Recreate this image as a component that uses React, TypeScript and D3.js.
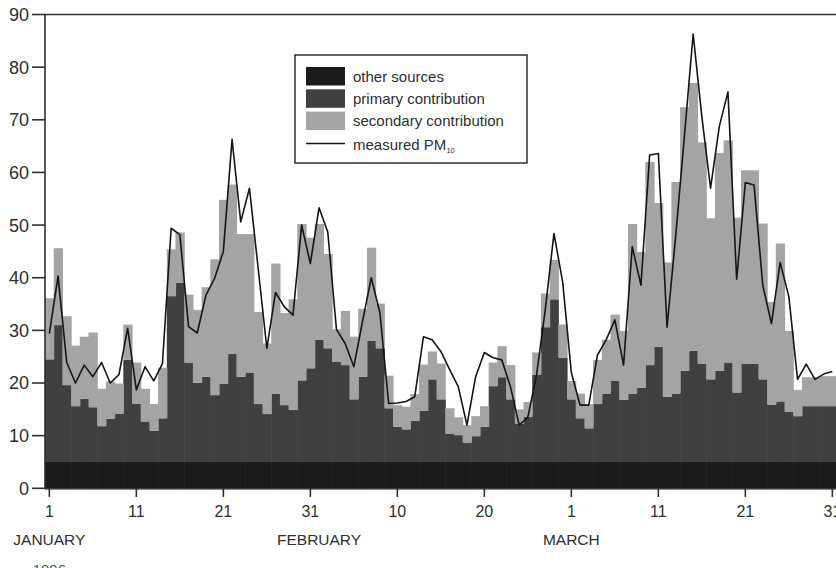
import React from 'react'
import * as d3 from 'd3'

// daily values, 1 Jan – 31 Mar 1996 (µg/m3)
const otherSources = [
  5, 5, 5, 5, 5, 5, 5, 5, 5, 5, 5, 5, 5, 5, 5, 5, 5, 5, 5, 5,
  5, 5, 5, 5, 5, 5, 5, 5, 5, 5, 5, 5, 5, 5, 5, 5, 5, 5, 5, 5,
  5, 5, 5, 5, 5, 5, 5, 5, 5, 5, 5, 5, 5, 5, 5, 5, 5, 5, 5, 5,
  5, 5, 5, 5, 5, 5, 5, 5, 5, 5, 5, 5, 5, 5, 5, 5, 5, 5, 5, 5,
  5, 5, 5, 5, 5, 5, 5, 5, 5, 5, 5,
]
const primary = [
  19.5, 26, 14.6, 10.6, 12, 10.4, 6.8, 8.2, 9.2, 19.4,
  11.1, 7.7, 5.9, 8.3, 31.5, 34, 18.9, 15, 16.2, 12.7,
  14.9, 20.5, 16.2, 17, 11, 9.1, 13, 10.8, 9.9, 15.5,
  17.8, 23.2, 21.6, 19, 18.4, 11.9, 16.2, 23, 21.6, 10.2,
  6.7, 6.2, 7.8, 9.7, 15.7, 11.9, 5.4, 5.1, 3.7, 4.9,
  6.7, 14.4, 16.1, 11.9, 7.3, 8.6, 16.6, 25.6, 30.9, 19.8,
  11.9, 8.3, 6.4, 11, 13, 15.4, 11.8, 13, 14.1, 18.4,
  21.9, 12.4, 13, 17.3, 21.1, 18.7, 15.7, 17.3, 18.9, 13.2,
  18.7, 18.7, 15.7, 10.9, 11.5, 9.5, 8.7, 10.6, 10.6, 10.6, 10.6,
]
const secondary = [
  11.6, 14.6, 13.1, 11.5, 11.8, 14.2, 7.1, 7.1, 5.7, 6.7,
  7.8, 6.2, 5.1, 9.6, 8.9, 9.6, 12.9, 13.9, 17, 25.8,
  34.9, 32.2, 27.1, 26.3, 17.5, 13.4, 24.7, 17.5, 21, 29.7,
  24.8, 22, 17.9, 6.2, 10.3, 11.9, 12.9, 17.7, 8.5, 6.2,
  4.1, 4.3, 5.1, 8.8, 5.3, 6.8, 4.8, 3.4, 3.3, 3.8,
  3.9, 4.5, 5.9, 6.5, 2.7, 2.8, 4.2, 6.4, 7.5, 6.3,
  3.5, 4.7, 4.6, 8.4, 10.2, 12.6, 13.1, 32.2, 25.8, 38.6,
  27.3, 25.5, 40.2, 50.1, 50.9, 42, 30.6, 41.4, 42.2, 33.2,
  36.7, 36.7, 29.6, 19.5, 30, 15.4, 5, 5.5, 5.5, 5.7, 5.7,
]
const measured = [
  29.4, 40.3, 23.9, 20, 23.4, 21.2, 23.9, 20, 21.6, 30.4,
  18.7, 23.1, 20.4, 23.7, 49.4, 48.2, 30.7, 29.5, 36.7, 39.9,
  45, 66.3, 50.6, 57, 41.8, 26.6, 37.2, 34.5, 32.9, 50,
  42.7, 53.3, 48.7, 30.2, 27.5, 23.1, 31.7, 40, 33.3, 16.1,
  16.2, 16.5, 17.4, 28.8, 28.2, 26, 22.6, 19.3, 12, 21.2,
  25.8, 24.8, 24.4, 19.3, 12, 13.5, 21.5, 33.9, 48.4, 39.2,
  22, 15.8, 15.8, 25.3, 28.2, 32, 23.4, 45.9, 38.6, 63.3,
  63.6, 30.6, 48, 67, 86.3, 70.6, 57, 68.7, 75.3, 39.7,
  58.1, 57.6, 38.6, 31.3, 42.9, 36.4, 20.7, 23.6, 20.7, 21.7, 22.2,
]

const dayTicks = [0, 10, 20, 30, 40, 50, 60, 70, 80, 90]
const dayTickLabels = ['1', '11', '21', '31', '10', '20', '1', '11', '21', '31']
const monthAt = [0, 31, 60]
const monthLabels = ['JANUARY', 'FEBRUARY', 'MARCH']
const yTicks = [0, 10, 20, 30, 40, 50, 60, 70, 80, 90]

const seriesKeys = ['other', 'primary', 'secondary']
const seriesNames = ['other sources', 'primary contribution', 'secondary contribution']
const colors = ['#1b1b1b', '#404040', '#a4a4a4']

const W = 836
const H = 568
const font = '"Liberation Sans", Arial, Helvetica, sans-serif'
const ink = '#2e2e2e'

const App = () => {
  const days = d3.range(measured.length)
  const rows = days.map(i => ({
    i,
    other: otherSources[i],
    primary: primary[i],
    secondary: secondary[i],
  }))
  const stacked = d3.stack().keys(seriesKeys)(rows)

  const x = d3.scaleBand().domain(days).range([45, 836.7]).padding(0)
  const y = d3.scaleLinear().domain([0, 90]).range([488.3, 14.5])
  const cx = i => x(i) + x.bandwidth() / 2

  const line = d3.line()
    .x((d, i) => cx(i))
    .y(d => y(d))

  return (
    <svg width={W} height={H} style={{ display: 'block', position: 'absolute', left: 0, top: 0, background: '#fff' }}
      fontFamily={font}>
      {stacked.map((s, k) => (
        <g key={s.key} fill={colors[k]}>
          {s.map((d, i) => (
            <rect key={i} x={x(i)} width={x.bandwidth() + 0.6}
              y={y(d[1])} height={y(d[0]) - y(d[1])} />
          ))}
        </g>
      ))}
      <path d={line(measured)} fill='none' stroke='#151515' strokeWidth={1.6} strokeLinejoin='round' />

      {/* frame */}
      <line x1={45} x2={45} y1={14.5} y2={489} stroke={ink} strokeWidth={1.6} />
      <line x1={45} x2={836} y1={14.5} y2={14.5} stroke={ink} strokeWidth={1.6} />
      <line x1={45} x2={836} y1={488.8} y2={488.8} stroke='#111' strokeWidth={1.2} />

      {yTicks.map(t => (
        <g key={t} transform={`translate(0,${y(t)})`}>
          <line x1={32} x2={45} stroke={ink} strokeWidth={1.6} />
          <text x={29} dy='0.36em' textAnchor='end' fontSize={18} fill={ink}>{t}</text>
        </g>
      ))}

      {dayTicks.map((d, k) => (
        <g key={d} transform={`translate(${cx(d)},0)`}>
          <line y1={488} y2={497} stroke={ink} strokeWidth={1.6} />
          <text y={517} textAnchor='middle' fontSize={16} fill={ink}>{dayTickLabels[k]}</text>
        </g>
      ))}
      {monthAt.map((d, k) => (
        <text key={d} x={cx(d)} y={545} textAnchor='middle' fontSize={15.5} fill={ink}>{monthLabels[k]}</text>
      ))}
      <text x={cx(0)} y={575} textAnchor='middle' fontSize={15} fill='#555'>1996</text>

      {/* legend */}
      <g>
        <rect x={295} y={55} width={232} height={108} fill='#fff' stroke={ink} strokeWidth={1.5} />
        {seriesNames.map((n, k) => {
          const top = 67 + k * 22.3
          return (
            <g key={n}>
              <rect x={306} y={top} width={39} height={18.5} fill={colors[k]} />
              <text x={353} y={top + 14.5} fontSize={15} fill={ink}>{n}</text>
            </g>
          )
        })}
        <line x1={306} x2={345} y1={143.5} y2={143.5} stroke='#151515' strokeWidth={1.6} />
        <text x={353} y={149.5} fontSize={15} fill={ink}>
          measured PM<tspan fontSize={7.5} dy={3}>10</tspan>
        </text>
      </g>
    </svg>
  )
}

export default App
